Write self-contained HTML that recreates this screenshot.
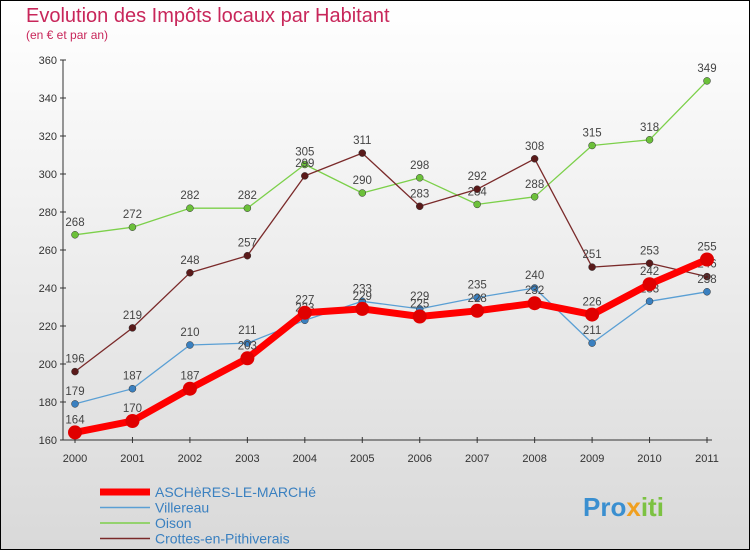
<!DOCTYPE html>
<html><head><meta charset="utf-8"><style>
body{margin:0;}
#c{width:750px;height:550px;position:relative;overflow:hidden;font-family:"Liberation Sans",sans-serif;}
</style></head><body>
<div id="c">
<svg id="s" width="750" height="550" xmlns="http://www.w3.org/2000/svg">
<defs><linearGradient id="bg" x1="0" y1="0" x2="0" y2="1"><stop offset="0" stop-color="#ffffff"/><stop offset="1" stop-color="#d9d9d9"/></linearGradient></defs>
<rect x="0.5" y="0.5" width="749" height="549" fill="url(#bg)" stroke="#000"/>
<text x="26" y="22" font-size="20" fill="#c8265a">Evolution des Impôts locaux par Habitant</text>
<text x="26" y="39" font-size="12" fill="#c8265a">(en € et par an)</text>
<g id="axes"></g><g id="series"></g><g id="legend"></g>
<text x="583" y="516" font-size="26" font-weight="bold" fill="#3a8fd0">Pro<tspan fill="#f0a020">x</tspan><tspan fill="#7cc242">iti</tspan></text>
</svg>
</div>
<script>
const years=["2000","2001","2002","2003","2004","2005","2006","2007","2008","2009","2010","2011"];
const yTicks=[160,180,200,220,240,260,280,300,320,340,360];
const seriesNames=["ASCHèRES-LE-MARCHé","Villereau","Oison","Crottes-en-Pithiverais"];
const ascheres=[164,170,187,203,227,229,225,228,232,226,242,255];
const villereau=[179,187,210,211,223,233,229,235,240,211,233,238];
const oison=[268,272,282,282,305,290,298,284,288,315,318,349];
const crottes=[196,219,248,257,299,311,283,292,308,251,253,246];
const NS="http://www.w3.org/2000/svg";
const x0=75,x1=707,yb=440,yt=60,vmin=160,vmax=360;
const X=i=>x0+i*(x1-x0)/(years.length-1);
const Y=v=>yb-(v-vmin)*(yb-yt)/(vmax-vmin);
function mk(t,a,p){const e=document.createElementNS(NS,t);for(const k in a)e.setAttribute(k,a[k]);p.appendChild(e);return e;}
const ax=document.getElementById('axes');
let yl=mk('line',{x1:63,y1:yt,x2:63,y2:yb,stroke:'#333'},ax);


let xl=mk('line',{x1:63,y1:yb,x2:x1+5,y2:yb,stroke:'#333'},ax);


yTicks.forEach(v=>{
 mk('line',{x1:60,y1:Y(v),x2:66,y2:Y(v),stroke:'#333'},ax);
 const t=mk('text',{x:57,y:Y(v)+4,'font-size':11,fill:'#333','text-anchor':'end'},ax);t.textContent=v;
 
 
});
years.forEach((y,i)=>{
 mk('line',{x1:X(i),y1:yb-3,x2:X(i),y2:yb+3,stroke:'#333'},ax);
 const t=mk('text',{x:X(i),y:yb+22,'font-size':11,fill:'#333','text-anchor':'middle'},ax);t.textContent=y;
 
 
});
const sg=document.getElementById('series');
const defs=[[oison,'#7cd04a','#6cc03a',1.3,3.5,'oison'],[crottes,'#7a2a2a','#5a1a1a',1.3,3.5,'crottes'],[villereau,'#5a9fd4','#3a80c0',1.3,3.5,'villereau'],[ascheres,'#ff0000','#e00000',7,7,'ascheres']];
defs.forEach(([d,c,pc,w,r,n])=>{
 const g=mk('g',{},sg);
 
 
 mk('polyline',{points:d.map((v,i)=>X(i)+','+Y(v)).join(' '),fill:'none',stroke:c,'stroke-width':w,'stroke-linejoin':'round'},g);
 d.forEach((v,i)=>{
  const p=mk('circle',{cx:X(i),cy:Y(v),r:r,fill:pc,stroke:'#333','stroke-width':n==='ascheres'?0:0.5},g);
  
  
  const t=mk('text',{x:X(i),y:Y(v)-9,'font-size':11.5,fill:'#444','text-anchor':'middle'},g);t.textContent=v;
  
  
 });
});
const lg=document.getElementById('legend');
const lc=['#ff0000','#5a9fd4','#7cd04a','#7a2a2a'],lw=[7,1.5,1.5,1.5];
seriesNames.forEach((n,i)=>{
 const y=492+i*15.5;
 const g=mk('g',{},lg);
 
 
 mk('line',{x1:100,y1:y,x2:150,y2:y,stroke:lc[i],'stroke-width':lw[i]},g);
 const t=mk('text',{x:155,y:y+5,'font-size':14,fill:'#3a80c0'},g);t.textContent=n;
});
</script>
</body></html>
